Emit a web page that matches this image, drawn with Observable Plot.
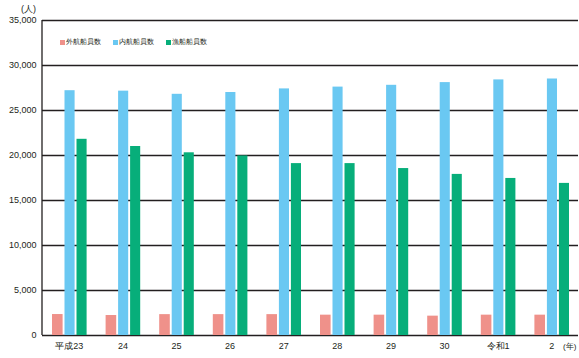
<!DOCTYPE html>
<html>
<head>
<meta charset="utf-8">
<script src="https://cdn.jsdelivr.net/npm/d3@7"></script>
<script src="https://cdn.jsdelivr.net/npm/@observablehq/plot@0.6"></script>
<style>
  html, body { margin: 0; padding: 0; background: #fff; }
  #wrap { position: relative; width: 579px; height: 358px; font-family: "Liberation Sans", Arial, sans-serif; }
  .note { position: absolute; font-size: 9px; color: #231f20; }
  .legend { position: absolute; top: 37px; left: 60px; font-size: 7px; color: #231f20; display: flex; }
  .legend span.item { display: flex; align-items: center; margin-right: 12px; }
  .legend span.sw { display: inline-block; width: 5px; height: 5px; margin-right: 1px; }
</style>
</head>
<body>
<div id="wrap"></div>
<script>
const years = ["平成23", "24", "25", "26", "27", "28", "29", "30", "令和1", "2"];
const series = ["外航船員数", "内航船員数", "漁船船員数"];
const colors = ["#ef918a", "#6ac8f2", "#07ae7a"];
const gaiko = [2330, 2220, 2320, 2320, 2320, 2260, 2260, 2150, 2260, 2260];
const naiko = [27200, 27150, 26800, 27000, 27400, 27600, 27800, 28100, 28400, 28500];
const gyosen = [21800, 21000, 20300, 19950, 19100, 19100, 18550, 17900, 17450, 16900];
const yTicks = [0, 5000, 10000, 15000, 20000, 25000, 30000, 35000];

const toRows = (vals) => years.map((y, i) => ({year: y, value: vals[i]}));
const ink = "#231f20";

const leftLine = (index, scales, values, dimensions) => {
  const g = d3.create("svg:g");
  g.append("line")
    .attr("x1", dimensions.marginLeft).attr("x2", dimensions.marginLeft)
    .attr("y1", scales.y(yTicks[yTicks.length - 1])).attr("y2", scales.y(0))
    .attr("stroke", ink).attr("stroke-width", 1.3);
  return g.node();
};

const chart = Plot.plot({
  width: 579,
  height: 358,
  marginLeft: 42,
  marginRight: 1,
  marginTop: 20,
  marginBottom: 23,
  style: {fontFamily: "Liberation Sans, Arial, sans-serif", fontSize: "9px", color: ink, background: "#fff"},
  x: {domain: years, padding: 0, round: false, label: null, tickSize: 0, tickPadding: 7},
  y: {domain: [0, 35000], ticks: yTicks, label: null, tickSize: 0, tickPadding: 6, tickFormat: d3.format(",")},
  marks: [
    Plot.ruleY(yTicks, {stroke: ink, strokeWidth: 1.3}),
    leftLine,
    Plot.barY(toRows(gaiko), {x: "year", y: "value", fill: colors[0], insetLeft: 10, insetRight: 33}),
    Plot.barY(toRows(naiko), {x: "year", y: "value", fill: colors[1], insetLeft: 22.5, insetRight: 21}),
    Plot.barY(toRows(gyosen), {x: "year", y: "value", fill: colors[2], insetLeft: 34.5, insetRight: 9})
  ]
});

const wrap = document.getElementById("wrap");
wrap.appendChild(chart);

const unitY = document.createElement("div");
unitY.className = "note"; unitY.textContent = "(人)";
unitY.style.left = "21px"; unitY.style.top = "3px";
wrap.appendChild(unitY);

const unitX = document.createElement("div");
unitX.className = "note"; unitX.textContent = "(年)";
unitX.style.left = "563px"; unitX.style.top = "341px"; unitX.style.fontSize = "8px";
wrap.appendChild(unitX);

const legend = document.createElement("div");
legend.className = "legend";
series.forEach((s, i) => {
  const item = document.createElement("span");
  item.className = "item";
  const sw = document.createElement("span");
  sw.className = "sw"; sw.style.background = colors[i];
  item.appendChild(sw);
  item.appendChild(document.createTextNode(s));
  legend.appendChild(item);
});
wrap.appendChild(legend);
</script>
</body>
</html>
